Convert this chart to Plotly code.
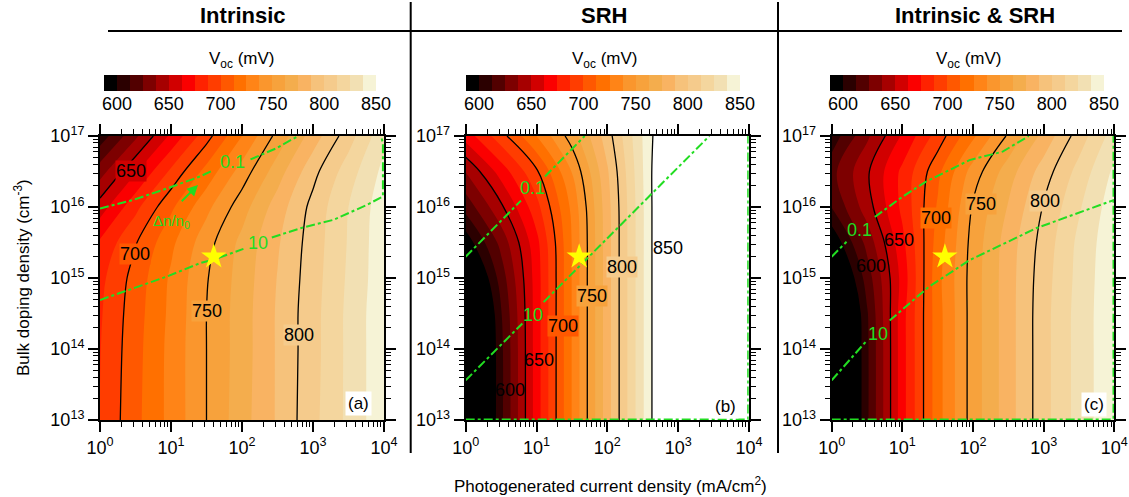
import numpy as np
import plotly.graph_objects as go

# ---------------- data ----------------
# grid: log10 of photogenerated current density (mA/cm2) and bulk doping (cm-3)
log_j = [0, 0.5, 1, 1.5, 2, 2.5, 3, 3.5, 4]
log_n = [13, 14, 14.5, 15, 15.5, 16, 16.5, 17]

# Voc (mV); rows follow log_n, columns follow log_j
voc_intrinsic = [
    [688, 709, 729, 750, 770, 789, 809, 828, 847],
    [687, 708, 729, 750, 769, 789, 808, 828, 847],
    [686, 707, 728, 750, 769, 789, 808, 828, 847],
    [684, 705, 727, 749, 768, 788, 807, 827, 846],
    [677, 699, 722, 745, 766, 786, 806, 826, 846],
    [656, 684, 710, 734, 757, 781, 804, 825, 845],
    [632, 661, 690, 717, 743, 769, 796, 819, 841],
    [605, 635, 665, 695, 725, 754, 781, 807, 834],
]
voc_srh = [
    [552, 609.5, 668.5, 725.5, 782, 836, 890, 945, 1000],
    [552, 609.5, 668.5, 725.5, 782, 836, 890, 945, 1000],
    [554, 611.5, 668.5, 725.5, 782, 836, 890, 945, 1000],
    [570.5, 618, 668.5, 725.5, 782, 836, 890, 945, 1000],
    [593, 629, 671, 725.5, 782, 836, 890, 945, 1000],
    [617, 647.5, 683, 728, 782.6, 836, 890, 945, 1000],
    [638, 668, 698, 738, 786, 837, 888, 940, 990],
    [668, 695, 725, 756, 794, 838, 880, 925, 970],
]
voc_both = [
    [553, 610, 670, 720, 756, 782, 808, 830, 848],
    [553, 610, 670, 720, 756, 782, 808, 830, 848],
    [554, 611, 670, 720, 756, 782, 808, 830, 848],
    [570, 618, 667, 721, 756, 782, 807, 829, 848],
    [590, 629, 671.6, 718, 755, 781, 805, 828, 847],
    [613, 644, 678, 714, 751.5, 776, 801, 823.5, 845],
    [621, 648, 678, 709, 743, 769, 793.6, 817, 840],
    [605, 635, 664, 693, 722.6, 752, 779, 806, 831],
]

# dn/n0 iso-lines (log10 J, log10 N); None = gap for the label
dn01_a_x = [0, 0.47, 0.94, 1.41, 1.58, None, 2.12, 2.49, 2.79]
dn01_a_y = [15.98, 16.10, 16.26, 16.43, 16.51, None, 16.67, 16.83, 17.0]
dn10_a_x = [0, 0.47, 0.94, 1.41, 1.60, 2.02, None, 2.42, 2.82, 3.29, 3.76, 3.985, 3.985, 3.96]
dn10_a_y = [14.69, 14.86, 15.02, 15.21, 15.26, 15.41, None, 15.57, 15.70, 15.82, 16.03, 16.15, 16.9, 16.99]
dn01_b_x = [0, 0.78, None, 1.12, 1.68]
dn01_b_y = [15.30, 16.09, None, 16.43, 17.0]
dn10_b_x = [0, 0.80, None, 1.10, 3.44]
dn10_b_y = [13.56, 14.36, None, 14.66, 17.0]
edge_b_x = [0, 3.985, 3.985]
edge_b_y = [13.01, 13.01, 17.0]
dn01_c_x = [0, 0.21, None, 0.61, 1.01, 1.34, 1.95, 2.42, 2.79]
dn01_c_y = [15.30, 15.51, None, 15.86, 16.15, 16.36, 16.66, 16.78, 17.0]
dn10_c_x = [0, 0.48, None, 0.82, 1.15, 1.38, 1.95, 2.89, 4.0]
dn10_c_y = [13.56, 14.10, None, 14.40, 14.69, 14.88, 15.25, 15.70, 16.10]
edge_c_x = [0, 3.985, 3.985]
edge_c_y = [13.01, 13.01, 17.0]

# operating point (star): J = 40 mA/cm2, N = 2e15 cm-3
star_j = [40]
star_n = [2e15]

panel_titles = ["Intrinsic", "SRH", "Intrinsic &amp; SRH"]
panel_tags = ["(a)", "(b)", "(c)"]
x_tick_vals = [0, 1, 2, 3, 4]
x_tick_text = ["10<sup>0</sup>", "10<sup>1</sup>", "10<sup>2</sup>", "10<sup>3</sup>", "10<sup>4</sup>"]
y_tick_vals = [13, 14, 15, 16, 17]
y_tick_text = ["10<sup>13</sup>", "10<sup>14</sup>", "10<sup>15</sup>", "10<sup>16</sup>", "10<sup>17</sup>"]
cbar_ticks = [600, 650, 700, 750, 800, 850]

# 21 colour bands of the V_oc scale (587.5 ... 850 mV, 12.5 mV each)
band_colors = ['#000000', '#2b0000', '#520000', '#7d0000', '#a60000', '#d10000',
               '#fb0000', '#ff2200', '#ff3d00', '#ff5800', '#ff7000', '#ff8417',
               '#fa962d', '#f7a23c', '#f4ad4d', '#f9b362', '#f6c27b', '#f5cb8c',
               '#f4d69e', '#f2e0b3', '#f6f3d6']
above_color = '#ffffff'

# ---------------- figure ----------------
W, H = 1129, 497
GREEN = '#22dd22'
FONT = "Liberation Sans, Arial, sans-serif"

def px_x(p):
    return p / W

def px_y(p):
    return 1 - p / H

plot_x = [(100, 384), (465.7, 749), (831.7, 1114.3)]
plot_y = (136, 420)
cbar_x = [(104, 376), (466, 740), (830, 1104)]
cbar_y = (75, 91)

step = 12.5
nb = len(band_colors)
fill_scale = [[k / nb, c] for k, c in enumerate(band_colors + [above_color])]
bar_scale = [[k / (nb - 1), c] for k, c in enumerate(band_colors)]
edges = list(np.arange(587.5, 850 + 0.1, step))

fig = go.Figure()
fields = [voc_intrinsic, voc_srh, voc_both]
lines = [((dn01_a_x, dn01_a_y, 2), (dn10_a_x, dn10_a_y, 2)),
         ((dn01_b_x, dn01_b_y, 2), (dn10_b_x, dn10_b_y, 2), (edge_b_x, edge_b_y, 1.5)),
         ((dn01_c_x, dn01_c_y, 2), (dn10_c_x, dn10_c_y, 2), (edge_c_x, edge_c_y, 1.5))]

for i in range(3):
    xa = 'x' if i == 0 else f'x{i+1}'
    ya = 'y' if i == 0 else f'y{i+1}'
    fig.add_trace(go.Contour(
        x=log_j, y=log_n, z=fields[i], xaxis=xa, yaxis=ya,
        autocontour=False,
        contours=dict(start=600, end=850, size=step, coloring='fill', showlines=False),
        colorscale=fill_scale, showscale=False,
        line=dict(width=0, smoothing=1), hoverinfo='skip'))
    fig.add_trace(go.Contour(
        x=log_j, y=log_n, z=fields[i], xaxis=xa, yaxis=ya,
        autocontour=False,
        contours=dict(start=600, end=850, size=50, coloring='none'),
        showscale=False,
        line=dict(width=1.3, color='black', smoothing=1), hoverinfo='skip'))
    for (lx, ly, lw) in lines[i]:
        fig.add_trace(go.Scatter(
            x=lx, y=ly, xaxis=xa, yaxis=ya, mode='lines',
            line=dict(color=GREEN, width=lw, dash='dashdot'),
            connectgaps=False, hoverinfo='skip'))
    fig.add_trace(go.Scatter(
        x=np.log10(star_j), y=np.log10(star_n), xaxis=xa, yaxis=ya, mode='markers',
        marker=dict(symbol='star', size=19, color='#ffff00', line=dict(width=0)),
        hoverinfo='skip'))
    # colour bar drawn as a small heat map
    cxa = f'x{i+4}'
    cya = f'y{i+4}'
    fig.add_trace(go.Heatmap(
        x=edges, y=[0, 1], z=[list(range(nb))], xaxis=cxa, yaxis=cya,
        colorscale=bar_scale, zmin=0, zmax=nb - 1, showscale=False, hoverinfo='skip'))

minor_x = [n + np.log10(k) for n in range(0, 4) for k in range(2, 10)]
minor_y = [n + np.log10(k) for n in range(13, 17) for k in range(2, 10)]

axis_common = dict(showline=True, linewidth=2, linecolor='black', mirror='allticks',
                   ticks='outside', ticklen=10, tickwidth=1.5, tickcolor='black',
                   showgrid=False, zeroline=False, automargin=False,
                   tickfont=dict(size=18, family=FONT, color='black'))

layout = dict(width=W, height=H, autosize=False,
              margin=dict(l=0, r=0, t=0, b=0, pad=0, autoexpand=False),
              paper_bgcolor='white', plot_bgcolor='white', showlegend=False,
              font=dict(family=FONT, color='black'))

for i in range(3):
    sx = '' if i == 0 else str(i + 1)
    x0, x1 = plot_x[i]
    layout['xaxis' + sx] = dict(axis_common, domain=[px_x(x0), px_x(x1)], range=[0, 4],
                                tickvals=x_tick_vals, ticktext=x_tick_text,
                                anchor='y' + sx,
                                minor=dict(tickvals=minor_x, ticks='outside', ticklen=5,
                                           tickwidth=1, tickcolor='black'))
    layout['yaxis' + sx] = dict(axis_common, domain=[px_y(plot_y[1]), px_y(plot_y[0])],
                                range=[13, 17], tickvals=y_tick_vals, ticktext=y_tick_text,
                                anchor='x' + sx,
                                minor=dict(tickvals=minor_y, ticks='outside', ticklen=5,
                                           tickwidth=1, tickcolor='black'))
    c0, c1 = cbar_x[i]
    layout[f'xaxis{i+4}'] = dict(domain=[px_x(c0), px_x(c1)], range=[587.5, 850],
                                 anchor=f'y{i+4}', showline=False, showgrid=False,
                                 zeroline=False, ticks='', tickvals=cbar_ticks,
                                 automargin=False,
                                 tickfont=dict(size=18, family=FONT, color='black'),
                                 fixedrange=True)
    layout[f'yaxis{i+4}'] = dict(domain=[px_y(cbar_y[1]), px_y(cbar_y[0])], range=[0, 1],
                                 anchor=f'x{i+4}', visible=False, fixedrange=True,
                                 automargin=False)

fig.update_layout(**layout)

ann = []
title_cx = [243, 604, 975]
cbar_title_cx = [241, 604, 968]
for i in range(3):
    ann.append(dict(x=px_x(title_cx[i]), y=px_y(16), xref='paper', yref='paper',
                    text=f"<b>{panel_titles[i]}</b>", showarrow=False,
                    font=dict(size=22, family=FONT, color='black'),
                    xanchor='center', yanchor='middle'))
    ann.append(dict(x=px_x(cbar_title_cx[i]), y=px_y(60), xref='paper', yref='paper',
                    text="V<sub>oc</sub> (mV)", showarrow=False,
                    font=dict(size=17, family=FONT, color='black'),
                    xanchor='center', yanchor='middle'))

ann.append(dict(x=px_x(22), y=px_y(278), xref='paper', yref='paper', textangle=-90,
                text="Bulk doping density (cm<sup>-3</sup>)", showarrow=False,
                font=dict(size=17, family=FONT, color='black'),
                xanchor='center', yanchor='middle'))
ann.append(dict(x=px_x(611), y=px_y(485), xref='paper', yref='paper',
                text="Photogenerated current density (mA/cm<sup>2</sup>)", showarrow=False,
                font=dict(size=17, family=FONT, color='black'),
                xanchor='center', yanchor='middle'))

# contour labels: (panel, text, logJ, logN, background)
contour_labels = [
    (0, "650", 0.43, 16.51, '#d10000'),
    (0, "700", 0.49, 15.34, '#ff5800'),
    (0, "750", 1.51, 14.54, '#f7a23c'),
    (0, "800", 2.80, 14.20, '#f5cb8c'),
    (1, "600", 0.62, 13.42, None),
    (1, "650", 1.03, 13.84, None),
    (1, "700", 1.37, 14.32, '#ff5800'),
    (1, "750", 1.78, 14.75, '#f7a23c'),
    (1, "800", 2.20, 15.15, '#f5cb8c'),
    (1, "850", 2.85, 15.42, None),
    (2, "600", 0.55, 15.17, None),
    (2, "650", 0.95, 15.54, None),
    (2, "700", 1.48, 15.85, '#ff7000'),
    (2, "750", 2.11, 16.04, '#f7a23c'),
    (2, "800", 3.02, 16.09, '#f5cb8c'),
]
for p, t, lx, ly, bg in contour_labels:
    sx = '' if p == 0 else str(p + 1)
    d = dict(x=lx, y=ly, xref='x' + sx, yref='y' + sx, text=t, showarrow=False,
             font=dict(size=18, family=FONT, color='black'), borderpad=0,
             xanchor='center', yanchor='middle')
    if bg:
        d['bgcolor'] = bg
    ann.append(d)

green_labels = [
    (0, "0.1", 1.87, 16.63), (0, "10", 2.22, 15.49),
    (1, "0.1", 0.95, 16.27), (1, "10", 0.95, 14.48),
    (2, "0.1", 0.40, 15.68), (2, "10", 0.65, 14.21),
]
for p, t, lx, ly in green_labels:
    sx = '' if p == 0 else str(p + 1)
    ann.append(dict(x=lx, y=ly, xref='x' + sx, yref='y' + sx, text=t, showarrow=False,
                    font=dict(size=18, family=FONT, color=GREEN),
                    xanchor='center', yanchor='middle'))

ann.append(dict(x=1.01, y=15.80, xref='x', yref='y', text="\u0394n/n<sub>0</sub>",
                showarrow=False, font=dict(size=15, family=FONT, color=GREEN),
                xanchor='center', yanchor='middle'))
ann.append(dict(x=1.38, y=16.31, xref='x', yref='y', ax=1.13, ay=16.06,
                axref='x', ayref='y', text="", showarrow=True, arrowhead=2,
                arrowsize=1.2, arrowwidth=1.8, arrowcolor=GREEN))

tag_pos = [(3.64, 13.23), (3.67, 13.19), (3.71, 13.22)]
for i in range(3):
    sx = '' if i == 0 else str(i + 1)
    ann.append(dict(x=tag_pos[i][0], y=tag_pos[i][1], xref='x' + sx, yref='y' + sx,
                    text=panel_tags[i], showarrow=False, bgcolor='white', borderpad=2,
                    font=dict(size=17, family=FONT, color='black'),
                    xanchor='center', yanchor='middle'))

fig.update_layout(annotations=ann)

shapes = [
    dict(type='line', xref='paper', yref='paper', x0=px_x(108), x1=px_x(1122),
         y0=px_y(31), y1=px_y(31), line=dict(color='black', width=2)),
    dict(type='line', xref='paper', yref='paper', x0=px_x(410.7), x1=px_x(410.7),
         y0=px_y(2), y1=px_y(453), line=dict(color='black', width=2)),
    dict(type='line', xref='paper', yref='paper', x0=px_x(778), x1=px_x(778),
         y0=px_y(2), y1=px_y(453), line=dict(color='black', width=2)),
]
fig.update_layout(shapes=shapes)

fig.write_html("out.html")
